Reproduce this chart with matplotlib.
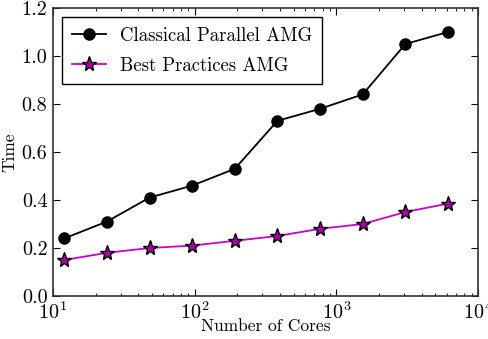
import matplotlib
matplotlib.use("Agg")

import matplotlib.pyplot as plt

cores = [12, 24, 48, 96, 192, 384, 768, 1536, 3072, 6144]
classical = [0.24, 0.31, 0.41, 0.46, 0.53, 0.73, 0.78, 0.84, 1.05, 1.10]
best = [0.15, 0.18, 0.20, 0.21, 0.23, 0.25, 0.28, 0.30, 0.35, 0.385]

plt.rcParams["font.family"] = ["cmr10", "DejaVu Serif"]
plt.rcParams["mathtext.fontset"] = "cm"
plt.rcParams["axes.formatter.use_mathtext"] = True
plt.rcParams["font.size"] = 13

fig = plt.figure(figsize=(4.89, 3.39), dpi=100)
ax = fig.add_axes([53 / 489, 43 / 339, 425 / 489, 288 / 339])

ax.plot(cores, classical, "-o", color="black", markersize=8, lw=1.3,
        label="Classical Parallel AMG")
ax.plot(cores, best, "-*", color="#cc00cc", markersize=11, lw=1.3,
        markerfacecolor="#aa00aa", markeredgecolor="black", markeredgewidth=1.0,
        label="Best Practices AMG")

ax.set_xscale("log")
ax.set_xlim(10, 1e4)
ax.set_ylim(0, 1.2)
ax.set_yticks([0.0, 0.2, 0.4, 0.6, 0.8, 1.0, 1.2])
ax.set_yticklabels(["0.0", "0.2", "0.4", "0.6", "0.8", "1.0", "1.2"])
ax.set_xlabel("Number of Cores", fontsize=12.5)
ax.set_ylabel("Time", fontsize=12.5)
ax.xaxis.set_label_coords(0.5, -0.08)
ax.yaxis.set_label_coords(-0.085, 0.5)

ax.tick_params(which="both", direction="in", top=True, right=True)
ax.tick_params(which="major", length=5, pad=4, labelsize=14.5)
ax.tick_params(which="minor", length=2.5)
for s in ax.spines.values():
    s.set_linewidth(1.2)
    s.set_color("#333333")

leg = ax.legend(loc="upper left", fancybox=False, framealpha=1,
                edgecolor="black", borderaxespad=0.5, handlelength=1.8,
                fontsize=13.5, labelspacing=0.65, borderpad=0.5)
leg.get_frame().set_linewidth(1.0)

fig.savefig("out.png", dpi=100)
plt.close(fig)
